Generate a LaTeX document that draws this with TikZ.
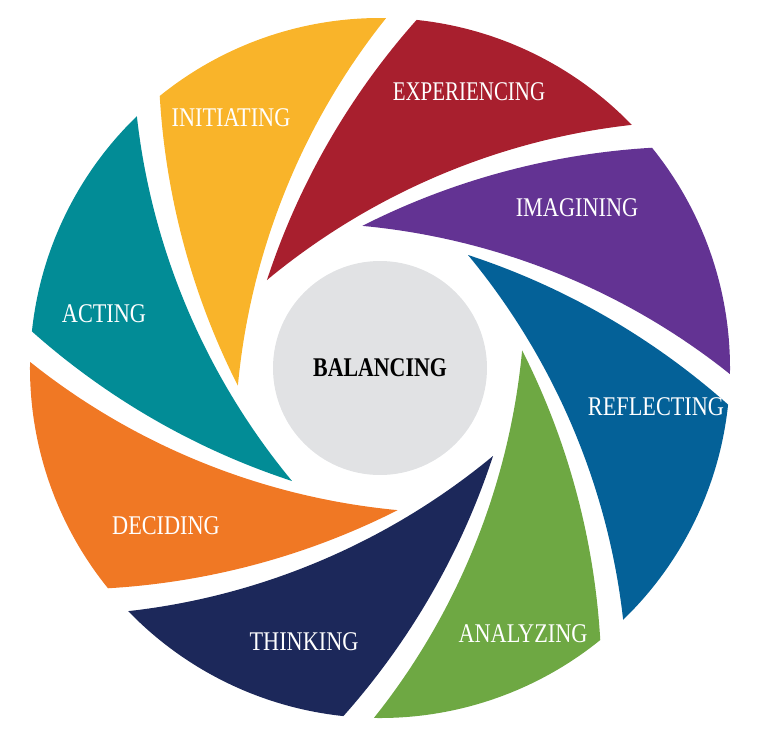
\documentclass[tikz,border=0pt]{standalone}
\usepackage{fontspec}
\setmainfont{Liberation Serif}
\newfontfamily\labfont[FakeStretch=0.825]{Liberation Serif}
\newfontfamily\hubfont[FakeStretch=0.81]{Liberation Serif}
\definecolor{cIni}{HTML}{F9B42A}
\definecolor{cExp}{HTML}{A81F2E}
\definecolor{cImg}{HTML}{633393}
\definecolor{cRef}{HTML}{046198}
\definecolor{cAna}{HTML}{6EA843}
\definecolor{cThi}{HTML}{1C285A}
\definecolor{cDec}{HTML}{F07824}
\definecolor{cAct}{HTML}{028C96}
\definecolor{cBal}{HTML}{E1E2E4}
\tikzset{
  lab/.style={text=white, inner sep=0pt, font=\labfont\fontsize{27}{27}\selectfont},
  hub/.style={circle, fill=cBal, inner sep=0pt, minimum size=214pt,
    font=\hubfont\bfseries\fontsize{27}{27}\selectfont, text=black}
}
\begin{document}
\begin{tikzpicture}[x=1pt,y=1pt]
\useasboundingbox (-380,-369) rectangle (377,368);
\foreach \k/\c in {0/cExp,1/cImg,2/cRef,3/cAna,4/cThi,5/cDec,6/cAct,7/cIni}{
  \fill[\c, rotate=-45*\k] (44:350) .. controls (118.5,228.3) and (-8.8,174.3) .. (-113,88)
     .. controls (-81.5,184.2) and (-30.5,272.6) .. (84:350)
     arc[start angle=84, end angle=44, radius=350] -- cycle;
}
\node[hub] (bal) at (0,0) {BALANCING};
\node[lab, xscale=0.94] (exp) at (89,276) {EXPERIENCING};
\node[lab] (ini) at (-149,250) {INITIATING};
\node[lab] (img) at (197,160) {IMAGINING};
\node[lab] (ref) at (276,-39) {REFLECTING};
\node[lab] (ana) at (143,-266) {ANALYZING};
\node[lab] (thi) at (-76,-274) {THINKING};
\node[lab] (dec) at (-214,-158) {DECIDING};
\node[lab] (act) at (-276,54) {ACTING};
\end{tikzpicture}
\end{document}
